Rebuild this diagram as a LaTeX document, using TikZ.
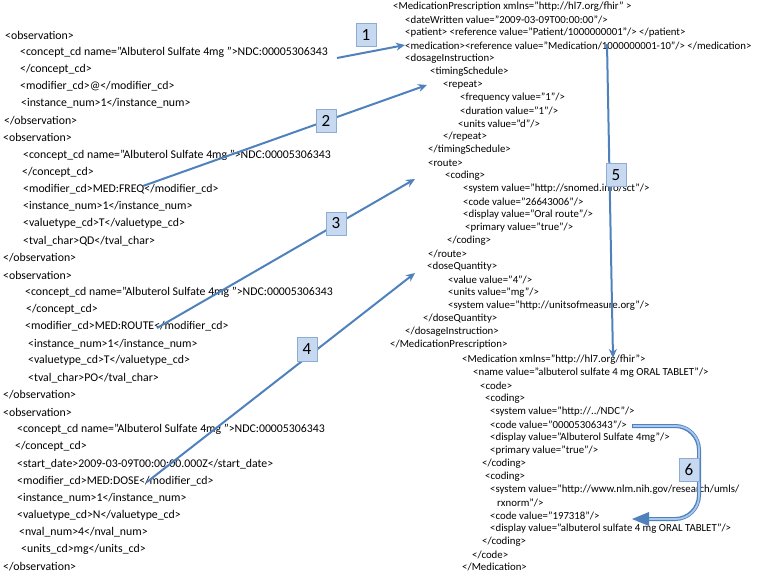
\documentclass[tikz,border=0pt]{standalone}
\usepackage{fontspec}
\setmainfont{Carlito}
\usetikzlibrary{arrows.meta,calc}
\definecolor{obl}{RGB}{79,129,189}
\definecolor{boxfill}{RGB}{198,217,241}
\definecolor{boxline}{RGB}{140,172,212}
\definecolor{inner}{RGB}{170,200,238}
\begin{document}
\begin{tikzpicture}[x=1pt,y=-1pt,
 lt/.style={anchor=west,inner sep=0pt,font=\fontsize{11.8}{14}\selectfont},
 rt/.style={anchor=west,inner sep=0pt,font=\fontsize{10.8}{13}\selectfont},
 numbox/.style={draw=boxline,fill=boxfill,minimum width=20pt,minimum height=23pt,inner sep=0pt,font=\fontsize{17}{20}\selectfont},
 conn/.style={draw=obl,line width=2pt,-{Stealth[length=9pt,width=8pt]}}]
\useasboundingbox (0,0) rectangle (760,577);
% left column
\node[lt] (L1) at (5,35) {<observation>};
\node[lt] (L2) at (20,52.15) {<concept\_cd name="Albuterol Sulfate 4mg ">NDC:00005306343};
\node[lt] (L3) at (20,69.3) {</concept\_cd>};
\node[lt] (L4) at (20,86.45) {<modifier\_cd>@</modifier\_cd>};
\node[lt] (L5) at (21,103.6) {<instance\_num>1</instance\_num>};
\node[lt] (L6) at (4,120.75) {</observation>};
\node[lt] (L7) at (3,137.9) {<observation>};
\node[lt] (L8) at (23,155.05) {<concept\_cd name="Albuterol Sulfate 4mg ">NDC:00005306343};
\node[lt] (L9) at (22,172.2) {</concept\_cd>};
\node[lt] (L10) at (23,189.35) {<modifier\_cd>MED:FREQ</modifier\_cd>};
\node[lt] (L11) at (23,206.5) {<instance\_num>1</instance\_num>};
\node[lt] (L12) at (23,223.65) {<valuetype\_cd>T</valuetype\_cd>};
\node[lt] (L13) at (23,240.8) {<tval\_char>QD</tval\_char>};
\node[lt] (L14) at (3,257.95) {</observation>};
\node[lt] (L15) at (3,275.1) {<observation>};
\node[lt] (L16) at (25,292.25) {<concept\_cd name="Albuterol Sulfate 4mg ">NDC:00005306343};
\node[lt] (L17) at (26,309.4) {</concept\_cd>};
\node[lt] (L18) at (25,326.55) {<modifier\_cd>MED:ROUTE</modifier\_cd>};
\node[lt] (L19) at (28,343.7) {<instance\_num>1</instance\_num>};
\node[lt] (L20) at (28,360.85) {<valuetype\_cd>T</valuetype\_cd>};
\node[lt] (L21) at (28,378) {<tval\_char>PO</tval\_char>};
\node[lt] (L22) at (3,395.15) {</observation>};
\node[lt] (L23) at (3,412.3) {<observation>};
\node[lt] (L24) at (17,429.45) {<concept\_cd name="Albuterol Sulfate 4mg ">NDC:00005306343};
\node[lt] (L25) at (15,446.6) {</concept\_cd>};
\node[lt] (L26) at (17,463.75) {<start\_date>2009-03-09T00:00:00.000Z</start\_date>};
\node[lt] (L27) at (17,480.9) {<modifier\_cd>MED:DOSE</modifier\_cd>};
\node[lt] (L28) at (17,498.05) {<instance\_num>1</instance\_num>};
\node[lt] (L29) at (17,515.2) {<valuetype\_cd>N</valuetype\_cd>};
\node[lt] (L30) at (19,532.35) {<nval\_num>4</nval\_num>};
\node[lt] (L31) at (21,549.5) {<units\_cd>mg</units\_cd>};
\node[lt] (L32) at (3,566.65) {</observation>};
% right column
\node[rt] (R0) at (393,7) {<MedicationPrescription xmlns="http://hl7.org/fhir" >};
\node[rt] (R1) at (405,20) {<dateWritten value="2009-03-09T00:00:00"/>};
\node[rt] (R2) at (405,33) {<patient> <reference value="Patient/1000000001"/> </patient>};
\node[rt] (R3) at (405,46) {<medication><reference value="Medication/1000000001-10"/> </medication>};
\node[rt] (R4) at (405,59) {<dosageInstruction>};
\node[rt] (R5) at (430,72) {<timingSchedule>};
\node[rt] (R6) at (443,85) {<repeat>};
\node[rt] (R7) at (460,98) {<frequency value="1"/>};
\node[rt] (R8) at (460,111) {<duration value="1"/>};
\node[rt] (R9) at (458,124) {<units value="d"/>};
\node[rt] (R10) at (443,137) {</repeat>};
\node[rt] (R11) at (428,150) {</timingSchedule>};
\node[rt] (R12) at (428,163) {<route>};
\node[rt] (R13) at (445,176) {<coding>};
\node[rt] (R14) at (463,189) {<system value="http://snomed.info/sct"/>};
\node[rt] (R15) at (463,202) {<code value="26643006"/>};
\node[rt] (R16) at (463,215) {<display value="Oral route"/>};
\node[rt] (R17) at (465,228) {<primary value="true"/>};
\node[rt] (R18) at (447,241) {</coding>};
\node[rt] (R19) at (428,254) {</route>};
\node[rt] (R20) at (427,267) {<doseQuantity>};
\node[rt] (R21) at (448,280) {<value value="4"/>};
\node[rt] (R22) at (448,293) {<units value="mg"/>};
\node[rt] (R23) at (448,306) {<system value="http://unitsofmeasure.org"/>};
\node[rt] (R24) at (423,319) {</doseQuantity>};
\node[rt] (R25) at (405,332) {</dosageInstruction>};
\node[rt] (R26) at (390,345) {</MedicationPrescription>};
\node[rt] (R27) at (462,360) {<Medication xmlns="http://hl7.org/fhir">};
\node[rt] (R28) at (473,373) {<name value="albuterol sulfate 4 mg ORAL TABLET"/>};
\node[rt] (R29) at (480,386) {<code>};
\node[rt] (R30) at (485,399) {<coding>};
\node[rt] (R31) at (490,412) {<system value="http://../NDC"/>};
\node[rt] (R32) at (490,425) {<code value="00005306343"/>};
\node[rt] (R33) at (490,438) {<display value="Albuterol Sulfate 4mg"/>};
\node[rt] (R34) at (490,451) {<primary value="true"/>};
\node[rt] (R35) at (482,464) {</coding>};
\node[rt] (R36) at (485,477) {<coding>};
\node[rt] (R37) at (490,490) {<system value="http://www.nlm.nih.gov/research/umls/};
\node[rt] (R38) at (497,503) {rxnorm"/>};
\node[rt] (R39) at (490,516) {<code value="197318"/>};
\node[rt] (R40) at (490,529) {<display value="albuterol sulfate 4 mg ORAL TABLET"/>};
\node[rt] (R41) at (482,542) {</coding>};
\node[rt] (R42) at (472,555) {</code>};
\node[rt] (R43) at (462,567) {</Medication>};
% connector end points
\coordinate (s1) at (337,58);   \coordinate (e1) at (405,45);
\coordinate (s2) at (143,186);  \coordinate (e2) at (427,85);
\coordinate (s3) at (157,328);  \coordinate (e3) at (415,179);
\coordinate (s4) at (147,482);  \coordinate (e4) at (415,273);
\coordinate (s5) at (607,44);   \coordinate (e5) at (613,358);
\coordinate (s6) at (632,426);  \coordinate (e6) at (632,519);
% connectors
\draw[conn] (s1) -- (e1);
\draw[conn] (s2) -- (e2);
\draw[conn] (s3) -- (e3);
\draw[conn] (s4) -- (e4);
\draw[conn] (s5) -- (e5);
\draw[obl,line width=4pt,rounded corners=24pt] (s6) -- (699,426) -- (699,519) -- ($(e6)+(12,0)$);
\draw[inner,line width=1.8pt,rounded corners=23pt] ($(s6)+(1,0)$) -- (699,426) -- (699,519) -- ($(e6)+(14,0)$);
\fill[obl] (e6) -- ($(e6)+(17,-7)$) -- ($(e6)+(17,7)$) -- cycle;
% number boxes
\node[numbox] (n1) at (366,35) {1};
\node[numbox] (n2) at ($(s2)!0.644!(e2)$) {2};
\node[numbox] (n3) at (336,223.5) {3};
\node[numbox,minimum height=24pt] (n4) at (307,349.5) {4};
\node[numbox] (n5) at (616,175) {5};
\node[numbox] (n6) at (689,470) {6};
\end{tikzpicture}
\end{document}
